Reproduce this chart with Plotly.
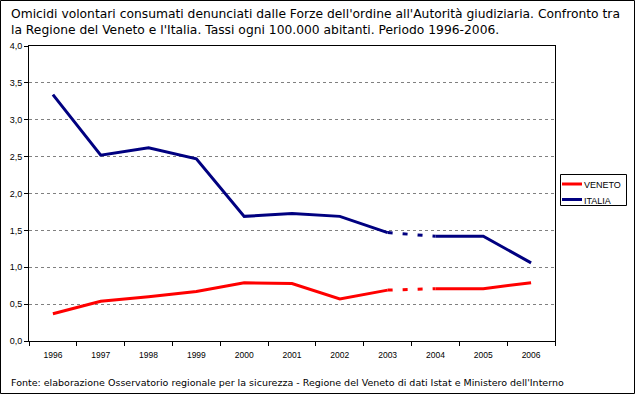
import plotly.graph_objects as go

anni = ["1996", "1997", "1998", "1999", "2000", "2001", "2002", "2003", "2004", "2005", "2006"]
veneto = [0.37, 0.54, 0.60, 0.67, 0.79, 0.78, 0.57, 0.69, 0.71, 0.71, 0.79]
italia = [3.34, 2.52, 2.62, 2.47, 1.69, 1.73, 1.69, 1.47, 1.42, 1.42, 1.06]
y_ticks = [0, 0.5, 1.0, 1.5, 2.0, 2.5, 3.0, 3.5, 4.0]
serie_nomi = ["VENETO", "ITALIA"]
serie_colori = ["#FF0000", "#000080"]

titolo = ("Omicidi volontari consumati denunciati dalle Forze dell'ordine all'Autorità giudiziaria. Confronto tra<br>"
          "la Regione del Veneto e l'Italia. Tassi ogni 100.000 abitanti. Periodo 1996-2006.")
fonte = "Fonte: elaborazione Osservatorio regionale per la sicurezza - Regione del Veneto di dati Istat e Ministero dell'Interno"

# dashed segment between 2003 and 2004
gap_i = anni.index("2003")

W, H = 635, 394
L, R, T, B = 29, 80, 46, 53
pw, ph = W - L - R, H - T - B


def px_x(x):
    return (x - L) / pw


def px_y(y):
    return (H - B - y) / ph


fig = go.Figure()
for name, vals, col in zip(serie_nomi, [veneto, italia], serie_colori):
    fig.add_trace(go.Scatter(x=anni[:gap_i + 1], y=vals[:gap_i + 1], mode="lines", name=name,
                             line=dict(color=col, width=3), showlegend=False))
    fig.add_trace(go.Scatter(x=anni[gap_i:gap_i + 2], y=vals[gap_i:gap_i + 2], mode="lines", name=name,
                             line=dict(color=col, width=3, dash="5px,10px"), showlegend=False))
    fig.add_trace(go.Scatter(x=anni[gap_i + 1:], y=vals[gap_i + 1:], mode="lines", name=name,
                             line=dict(color=col, width=3), showlegend=False))

font = "Liberation Sans, Arial, sans-serif"
font_t = "DejaVu Sans, Verdana, sans-serif"

shapes = [dict(type="rect", xref="paper", yref="paper",
               x0=px_x(0.5), x1=px_x(W - 0.5), y0=px_y(H - 0.5), y1=px_y(0.5),
               line=dict(color="black", width=1), layer="below"),
          # legend box
          dict(type="rect", xref="paper", yref="paper",
               x0=px_x(560.5), x1=px_x(626.5), y0=px_y(205.5), y1=px_y(174.5),
               line=dict(color="black", width=1), fillcolor="white", layer="below")]
annotations = [
    dict(text=titolo, xref="paper", yref="paper", x=px_x(9), y=px_y(5),
         xanchor="left", yanchor="top", align="left", showarrow=False,
         font=dict(size=12.3, family=font_t, color="black")),
    dict(text=fonte, xref="paper", yref="paper", x=px_x(9), y=px_y(382),
         xanchor="left", yanchor="middle", align="left", showarrow=False,
         font=dict(size=9.5, family=font_t, color="black")),
]
for i, (name, col) in enumerate(zip(serie_nomi, serie_colori)):
    yc = 184 + 15.5 * i
    shapes.append(dict(type="line", xref="paper", yref="paper",
                       x0=px_x(562), x1=px_x(582), y0=px_y(yc), y1=px_y(yc),
                       line=dict(color=col, width=3)))
    annotations.append(dict(text=name, xref="paper", yref="paper", x=px_x(582), y=px_y(yc + 1),
                            xanchor="left", yanchor="middle", showarrow=False,
                            font=dict(size=9, family=font, color="black")))

fig.update_layout(
    width=W, height=H,
    margin=dict(l=L, r=R, t=T, b=B, pad=0, autoexpand=False),
    paper_bgcolor="white", plot_bgcolor="white",
    separators=", ",
    font=dict(family=font, size=9, color="black"),
    showlegend=False,
    xaxis=dict(type="category", categoryorder="array", categoryarray=anni,
               range=[-0.5, len(anni) - 0.5],
               showline=True, linecolor="black", linewidth=1, mirror=True,
               ticks="outside", tickson="boundaries", ticklen=4, tickcolor="black",
               ticklabelstandoff=6,
               showgrid=False, tickfont=dict(size=8.5, family=font), fixedrange=True),
    yaxis=dict(range=[0, 4], tickvals=y_ticks, tickformat=".1f",
               showline=True, linecolor="black", linewidth=1, mirror=True,
               ticks="outside", ticklen=4, tickcolor="black",
               showgrid=True, gridcolor="#808080", griddash="3px,3px", gridwidth=1,
               zeroline=False, tickfont=dict(size=9, family=font), fixedrange=True),
    annotations=annotations,
    shapes=shapes,
)

fig.write_html("out.html", config={"displayModeBar": False},
               post_script="document.body.style.margin='0px';")
